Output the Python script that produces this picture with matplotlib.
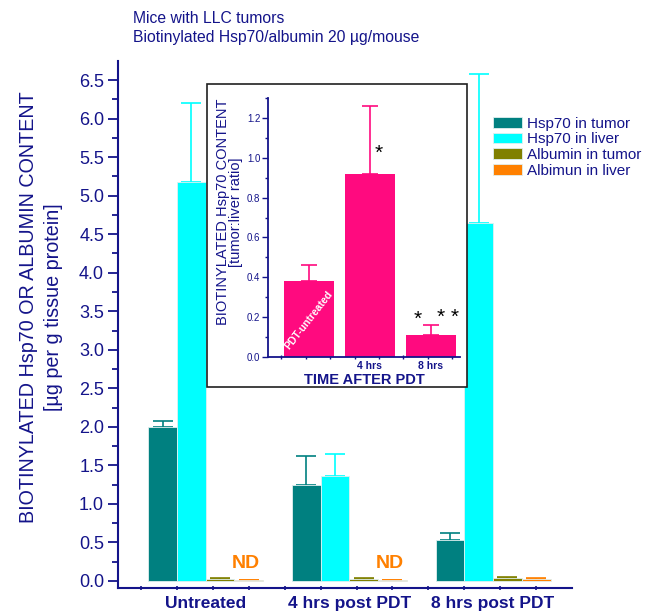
import matplotlib
matplotlib.use("Agg")
import matplotlib.pyplot as plt
import numpy as np
from matplotlib.patches import Rectangle
from matplotlib.ticker import MultipleLocator, FixedLocator

plt.rcParams['font.family'] = ['Liberation Sans', 'DejaVu Sans']

NAVY = '#14148a'

groups = ['Untreated', '4 hrs post PDT', '8 hrs post PDT']
series = ['Hsp70 in tumor', 'Hsp70 in liver', 'Albumin in tumor', 'Albimun in liver']
colors = ['#008080', '#00ffff', '#808000', '#ff8000']
hsp_tumor = [2.00, 1.25, 0.53]
hsp_tumor_err = [0.08, 0.37, 0.09]
hsp_liver = [5.18, 1.36, 4.65]
hsp_liver_err = [1.02, 0.29, 1.93]
alb_tumor = [0.03, 0.03, 0.04]
alb_tumor_err = [0.01, 0.01, 0.015]
alb_liver = [0.01, 0.01, 0.03]
alb_liver_err = [0.0, 0.0, 0.01]
nd_groups = [0, 1]

inset_labels = ['PDT-untreated', '4 hrs', '8 hrs']
inset_values = [0.38, 0.92, 0.11]
inset_err = [0.08, 0.34, 0.05]

fig = plt.figure(figsize=(6.6, 6.12), dpi=100)
ax = fig.add_axes([0.1788, 0.0392, 0.688, 0.861])

x = np.arange(len(groups))
w = 0.2
vals = [hsp_tumor, hsp_liver, alb_tumor, alb_liver]
errs = [hsp_tumor_err, hsp_liver_err, alb_tumor_err, alb_liver_err]
for i, (v, e, c, lab) in enumerate(zip(vals, errs, colors, series)):
    pos = x + (i - 1.5) * w
    ax.bar(pos, v, w, color=c, edgecolor='#e0f0f0', linewidth=0.6, label=lab, zorder=2)
    lo = np.zeros(len(v))
    ax.errorbar(pos, v, yerr=[lo, e], fmt='none', ecolor=c, elinewidth=1.2,
                capsize=7.5, capthick=1.2, zorder=1)

for g in nd_groups:
    ax.text(x[g] + 1.5 * w - 0.02, 0.12, 'ND', color='#ff8000', fontsize=14,
            fontweight='bold', ha='center', va='bottom')

ax.set_xlim(-0.61, 2.55)
ax.set_ylim(-0.091, 6.746)
ax.spines['top'].set_visible(False)
ax.spines['right'].set_visible(False)
for s in ['left', 'bottom']:
    ax.spines[s].set_color(NAVY)
    ax.spines[s].set_linewidth(1.5)
ax.yaxis.set_minor_locator(MultipleLocator(0.25))
ax.set_yticks(np.arange(0, 6.51, 0.5))
ax.set_yticklabels([f'{v:.1f}' for v in np.arange(0, 6.51, 0.5)])
ax.tick_params(axis='y', which='major', length=7, width=1.3, color=NAVY,
               labelcolor=NAVY, labelsize=13, pad=3)
ax.tick_params(axis='y', which='minor', length=4, width=1.3, color=NAVY)
ax.set_xticks(x)
ax.set_xticklabels(groups, fontsize=12.5, fontweight='bold', color=NAVY)
ax.tick_params(axis='x', which='major', length=0, pad=6)
ax.xaxis.set_minor_locator(FixedLocator(np.arange(-0.45, 2.5, 0.25)))
ax.tick_params(axis='x', which='minor', length=3, width=1.2, color=NAVY, direction='inout')

fig.text(41 / 660, 1 - 307 / 612,
         'BIOTINYLATED Hsp70 OR ALBUMIN CONTENT\n[\u00b5g per g tissue protein]',
         color=NAVY, fontsize=14.2, rotation=90, ha='center', va='center',
         linespacing=1.4, multialignment='center')

leg = ax.legend(loc='upper left', bbox_to_anchor=(0.826, 0.894), frameon=False,
                fontsize=11, handlelength=1.9, handleheight=0.7, handletextpad=0.33,
                labelspacing=0.1, labelcolor=NAVY, borderaxespad=0, borderpad=0)

fig.text(133 / 660, 1 - 11 / 612, 'Mice with LLC tumors\nBiotinylated Hsp70/albumin 20 \u00b5g/mouse',
         color=NAVY, fontsize=11.3, va='top', ha='left', linespacing=1.3)

# inset box
box = Rectangle((207 / 660, 1 - 387 / 612), 260 / 660, 303 / 612, transform=fig.transFigure,
                facecolor='white', edgecolor='#202020', linewidth=1.2, zorder=5)
fig.patches.append(box)

iax = fig.add_axes([268 / 660, 1 - 357 / 612, 192 / 660, 259 / 612], zorder=6)
iax.patch.set_alpha(0)
ix = np.arange(len(inset_values))
pink = '#ff0a7f'
iax.bar(ix, inset_values, 0.82, color=pink, zorder=2)
iax.errorbar(ix, inset_values, yerr=[np.zeros(3), inset_err], fmt='none', ecolor=pink,
             elinewidth=1.2, capsize=6, capthick=1.2, zorder=1)
iax.set_xlim(-0.67, 2.48)
iax.set_ylim(0, 1.30)
iax.spines['top'].set_visible(False)
iax.spines['right'].set_visible(False)
for s in ['left', 'bottom']:
    iax.spines[s].set_color(NAVY)
    iax.spines[s].set_linewidth(1.3)
iax.set_yticks(np.arange(0, 1.21, 0.2))
iax.set_yticklabels([f'{v:.1f}' for v in np.arange(0, 1.21, 0.2)])
iax.yaxis.set_minor_locator(MultipleLocator(0.1))
iax.tick_params(axis='y', which='major', length=4, width=1, color=NAVY,
                labelcolor=NAVY, labelsize=7, pad=1.5)
iax.tick_params(axis='y', which='minor', length=2.5, width=1, color=NAVY)
iax.set_xticks([1, 2])
iax.set_xticklabels(inset_labels[1:], fontsize=7.5, fontweight='bold', color=NAVY)
iax.tick_params(axis='x', which='major', length=0, pad=3)
iax.xaxis.set_minor_locator(FixedLocator(np.arange(-0.45, 2.4, 0.4)))
iax.tick_params(axis='x', which='minor', length=2.5, width=1, color=NAVY, direction='inout')
iax.text(0.0, 0.186, inset_labels[0], rotation=52, color='white', fontsize=7.5,
         fontweight='bold', ha='center', va='center', rotation_mode='anchor', zorder=3)
iax.set_xlabel('TIME AFTER PDT', fontsize=10.5, fontweight='bold', color=NAVY, labelpad=1)
iax.text(-0.2, 0.56, 'BIOTINYLATED Hsp70 CONTENT\n[tumor:liver ratio]', fontsize=10.5,
         color=NAVY, rotation=90, ha='center', va='center', linespacing=0.85,
         transform=iax.transAxes, multialignment='center')
iax.text(1.15, 1.02, '*', fontsize=15, ha='center', va='center')
iax.text(1.79, 0.19, '*', fontsize=15, ha='center', va='center')
iax.text(2.28, 0.20, '* *', fontsize=15, ha='center', va='center')

fig.savefig('out.png', dpi=100)
